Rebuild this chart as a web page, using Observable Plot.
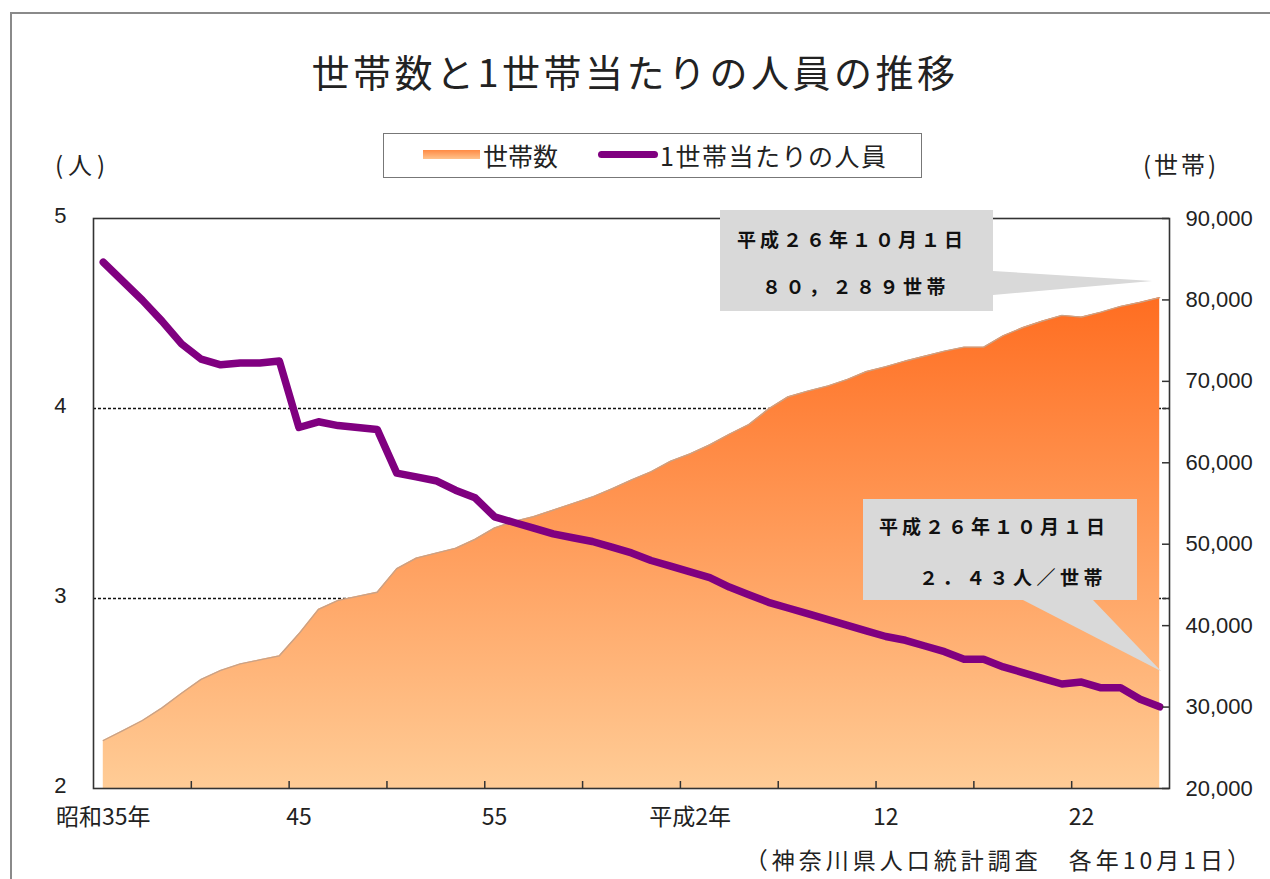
<!DOCTYPE html>
<html><head><meta charset="utf-8">
<script src="https://cdn.jsdelivr.net/npm/d3@7"></script>
<script src="https://cdn.jsdelivr.net/npm/@observablehq/plot@0.6"></script>
<style>
body{margin:0;background:#fff;}
#wrap{position:relative;width:1270px;height:879px;overflow:hidden;font-family:"Noto Sans CJK JP","Noto Sans",sans-serif;color:#222;}
.abs{position:absolute;white-space:nowrap;line-height:1;}
#wrap svg{position:absolute;left:0;top:0;}
</style></head><body><div id="wrap"></div>
<script>
// ---- data ----
const years = [1960,1961,1962,1963,1964,1965,1966,1967,1968,1969,
  1970,1971,1972,1973,1974,1975,1976,1977,1978,1979,
  1980,1981,1982,1983,1984,1985,1986,1987,1988,1989,
  1990,1991,1992,1993,1994,1995,1996,1997,1998,1999,
  2000,2001,2002,2003,2004,2005,2006,2007,2008,2009,
  2010,2011,2012,2013,2014];
const households = [25900,27100,28350,29900,31700,33400,34500,35300,35800,36300,
  39000,42000,43100,43600,44100,47000,48300,48900,49500,50600,
  52000,52800,53400,54200,55000,55800,56800,57900,58900,60200,
  61100,62200,63500,64700,66600,68100,68800,69400,70200,71200,
  71800,72500,73100,73700,74200,74200,75600,76600,77400,78100,
  77900,78500,79200,79700,80289];
const persons = [4.77,4.67,4.57,4.46,4.34,4.26,4.23,4.24,4.24,4.25,
  3.90,3.93,3.91,3.90,3.89,3.66,3.64,3.62,3.57,3.53,
  3.43,3.40,3.37,3.34,3.32,3.30,3.27,3.24,3.20,3.17,
  3.14,3.11,3.06,3.02,2.98,2.95,2.92,2.89,2.86,2.83,
  2.80,2.78,2.75,2.72,2.68,2.68,2.64,2.61,2.58,2.55,
  2.56,2.53,2.53,2.47,2.43];
const leftTicks = [2,3,4,5];
const leftGrid = [3,4];
const rightTicks = [20000,30000,40000,50000,60000,70000,80000,90000];
const xLabelYears = [1960,1970,1980,1990,2000,2010];
const xLabels = ["昭和35年","45","55","平成2年","12","22"];
const xTickMarks = [1964.5,1969.5,1974.5,1979.5,1984.5,1989.5,1994.5,1999.5,2004.5,2009.5];
const legendNames = ["世帯数","1世帯当たりの人員"];
const callout1 = ["平成２６年１０月１日","８０，２８９世帯"];
const callout2 = ["平成２６年１０月１日","２．４３人／世帯"];

const table = years.map((year,i)=>({year, households:households[i], persons:persons[i]}));
const P2H = p => 20000 + (p-2)*70000/3;
const H2P = h => 2 + (h-20000)*3/70000;

const W=1270, H=879, mL=93, mR=101, mT=218, mB=91;
const pw = W-mL-mR, ph = H-mT-mB;

const chart = Plot.plot({
  width:W, height:H, marginLeft:mL, marginRight:mR, marginTop:mT, marginBottom:mB,
  style:{fontFamily:"'Liberation Sans', Arial, sans-serif", fontSize:"22px", color:"#222", background:"transparent", overflow:"visible"},
  x:{domain:[1959.5,2014.5]},
  y:{domain:[20000,90000]},
  marks:[
    Plot.ruleY(leftGrid, {y:d=>P2H(d), stroke:"#111", strokeDasharray:"3,2", strokeWidth:1.4}),
    Plot.areaY(table, {x:"year", y1:20000, y2:"households", fill:"url(#hhGrad)"}),
    Plot.lineY(table, {x:"year", y:"households", stroke:"#c9a287", strokeWidth:1.3}),
    Plot.lineY(table, {x:"year", y:d=>P2H(d.persons), stroke:"#800080", strokeWidth:7.5, strokeLinejoin:"round", strokeLinecap:"round"}),
    Plot.frame({stroke:"#333", strokeWidth:1.6}),
    Plot.ruleX(xTickMarks, {x:d=>d, insetTop:ph-7, stroke:"#333", strokeWidth:1.5}),
    Plot.ruleY(rightTicks.concat(leftGrid.map(P2H)), {y:d=>d, insetLeft:pw-7, stroke:"#333", strokeWidth:1.5}),
    Plot.axisY({anchor:"right", ticks:rightTicks, tickFormat:d3.format(","), tickSize:0, tickPadding:16, label:null, fontSize:22, fill:"#222", letterSpacing:1}),
    Plot.axisY({anchor:"left", ticks:leftTicks.map(P2H), tickFormat:h=>String(Math.round(H2P(h))), tickSize:0, tickPadding:27, dy:-3, label:null, fontSize:22, fill:"#222"}),
    Plot.axisX({ticks:xLabelYears, tickFormat:y=>xLabels[xLabelYears.indexOf(y)], tickSize:0, tickPadding:20, label:null, fontSize:23, fill:"#222", fontFamily:"'Noto Sans CJK JP', sans-serif"})
  ]
});

const svg = d3.select(chart);
const defs = svg.insert("defs", ":first-child");
const g1 = defs.append("linearGradient").attr("id","hhGrad").attr("gradientUnits","userSpaceOnUse")
  .attr("x1",0).attr("x2",0).attr("y1",mT).attr("y2",H-mB);
g1.append("stop").attr("offset","0").attr("stop-color","#ff5e0e");
g1.append("stop").attr("offset","1").attr("stop-color","#ffcc96");

// callouts
const xS = chart.scale("x"), yS = chart.scale("y");
const tip1 = [xS.apply(years[years.length-1])-7, yS.apply(households[households.length-1])-16];
const tip2 = [xS.apply(years[years.length-1])+2, yS.apply(P2H(persons[persons.length-1]))-35];
const cg = svg.append("g").attr("font-family","'Noto Sans CJK JP', sans-serif").attr("font-weight","700").attr("fill","#111").attr("text-anchor","start");
cg.append("path").attr("fill","#d9d9d9")
  .attr("d", `M720,210H993V271L${tip1[0]},${tip1[1]}L993,295V311H720Z`);
cg.append("path").attr("fill","#d9d9d9")
  .attr("d", `M863,499H1137V600H1093L${tip2[0]},${tip2[1]}L1023,600H863Z`);
const t = (x,y,s,ls)=>cg.append("text").attr("x",x).attr("y",y).attr("text-anchor","start").attr("dominant-baseline","central").attr("font-size",19).attr("letter-spacing",ls).text(s);
t(737,238,callout1[0],4);
t(762,285,callout1[1],4.5);
t(879,525,callout2[0],4);
t(919,576,callout2[1],4.5);

const wrap = document.getElementById("wrap");
wrap.appendChild(chart);

function addDiv(html, css){ const d=document.createElement("div"); d.className="abs"; d.style.cssText=css; d.textContent=html; wrap.appendChild(d); return d; }
// outer border
const b=document.createElement("div"); b.style.cssText="position:absolute;left:10px;top:12px;width:1300px;height:900px;border-top:2px solid #8a8a8a;border-left:2px solid #8a8a8a;"; wrap.appendChild(b);
addDiv("世帯数と1世帯当たりの人員の推移","left:0;width:1270px;text-align:center;top:52px;font-size:38px;letter-spacing:3.5px;");
// legend
const lg=document.createElement("div"); lg.style.cssText="position:absolute;left:383px;top:133px;width:537px;height:43px;border:1px solid #777;background:#fff;"; wrap.appendChild(lg);
const sw1=document.createElement("div"); sw1.style.cssText="position:absolute;left:423px;top:150px;width:57px;height:9px;background:linear-gradient(#ff8a44,#ffc38c);"; wrap.appendChild(sw1);
addDiv(legendNames[0],"left:483px;top:143px;font-size:25px;");
const sw2=document.createElement("div"); sw2.style.cssText="position:absolute;left:598px;top:151px;width:60px;height:7px;border-radius:4px;background:#800080;"; wrap.appendChild(sw2);
addDiv(legendNames[1],"left:660px;top:143px;font-size:25px;letter-spacing:1.5px;");
addDiv("(人)","left:55px;top:152px;font-size:24px;letter-spacing:5px;");
addDiv("(世帯)","left:1143px;top:152px;font-size:24px;letter-spacing:3px;");
addDiv("（神奈川県人口統計調査　各年10月1日）","right:16px;top:848px;font-size:23px;letter-spacing:4px;");
</script></body></html>
